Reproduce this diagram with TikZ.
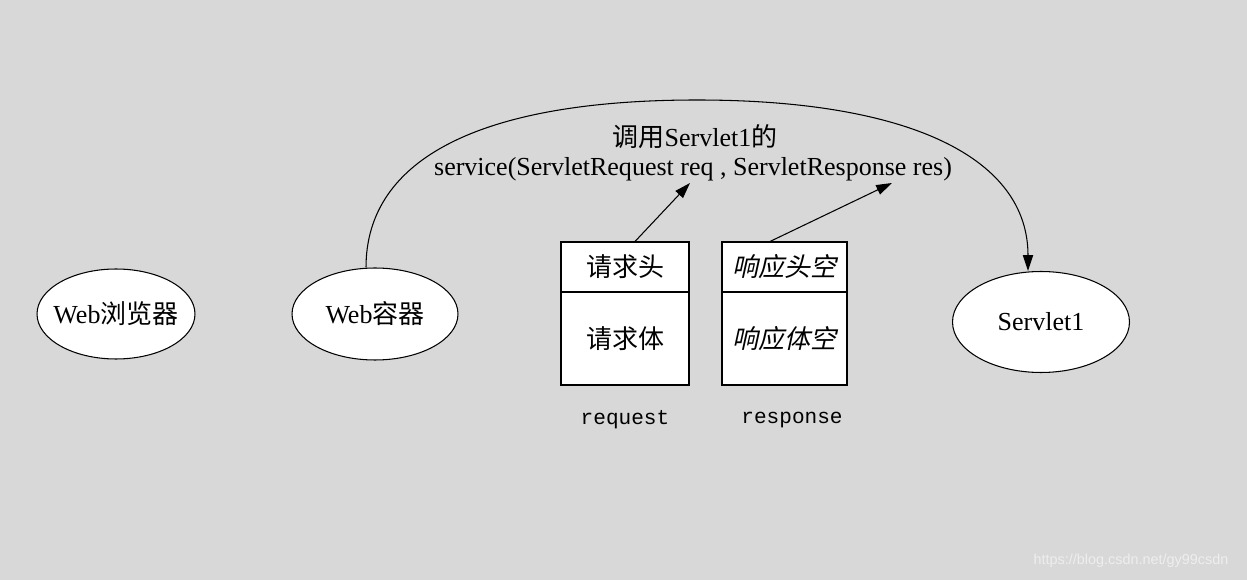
\documentclass[tikz,border=0pt]{standalone}
\usepackage{fontspec}
\setmainfont{Liberation Serif}
\newfontfamily\cjk{Noto Sans CJK SC}
\newfontfamily\cjkit[FakeSlant=0.22]{Noto Sans CJK SC}
\newfontfamily\monof{Liberation Mono}
\newfontfamily\wmfont{Liberation Sans}
\usetikzlibrary{shapes.geometric,arrows.meta}
\definecolor{bgc}{HTML}{D8D8D8}
\definecolor{wmc}{HTML}{EEEEEE}
\newcommand{\zw}[1]{\makebox[0pt]{#1}}
\tikzset{
  ell/.style={ellipse, draw=black, fill=white, inner sep=0pt, line width=0.6pt,
    font=\fontsize{14.8pt}{17pt}\selectfont},
  cell/.style={rectangle, draw=black, fill=white, inner sep=0pt, line width=0.6pt,
    font=\fontsize{14.8pt}{17pt}\selectfont},
  lbl/.style={inner sep=0pt, font=\fontsize{14.8pt}{17pt}\selectfont},
  mono/.style={inner sep=0pt, font=\monof\fontsize{12pt}{14pt}\selectfont},
  arr/.style={line width=0.6pt, -{Triangle[length=9pt,width=5.8pt]}},
}
\begin{document}
\begin{tikzpicture}[x=0.02cm, y=-0.02cm]
\fill[bgc] (0,0) rectangle (1247,580);
\useasboundingbox (0,0) rectangle (1247,580);

% ellipses
\node[ell, minimum width=3.16cm, minimum height=1.8cm] (br) at (116,314) {\zw{Web{\cjk 浏览器}}};
\node[ell, minimum width=3.32cm, minimum height=1.84cm] (wc) at (375,314) {\zw{Web{\cjk 容器}}};
\node[ell, minimum width=3.54cm, minimum height=2.02cm] (sv) at (1041,322) {\zw{Servlet1}};

% request / response boxes
\node[cell, minimum width=2.56cm, minimum height=1.0cm] (reqh) at (625,267) {\cjk 请求头};
\node[cell, minimum width=2.56cm, minimum height=1.86cm] (reqb) at (625,338.5) {\cjk 请求体};
\node[cell, minimum width=2.5cm, minimum height=1.0cm] (resh) at (784.5,267) {\cjkit 响应头空};
\node[cell, minimum width=2.5cm, minimum height=1.86cm] (resb) at (784.5,338.5) {\cjkit 响应体空};

\node[mono] (reqlbl) at (625,420) {request};
\node[mono] (reslbl) at (792,420) {response};

% call label
\node[lbl] (l1) at (695,137) {{\cjk 调用}Servlet1{\cjk 的}};
\node[lbl] (l2) at (693,169) {service(ServletRequest req , ServletResponse res)};

\coordinate (apex) at (697,100);
\coordinate (reqtip) at (690,183);
\coordinate (restip) at (892,183);

% connectors
\draw[arr] ([xshift=-0.18cm]wc.north) .. controls (366,158) and (482,100) .. (apex)
  .. controls (912,100) and (1028,159) .. ([xshift=-0.26cm]sv.north);
\draw[arr] ([xshift=0.2cm]reqh.north) -- (reqtip);
\draw[arr] ([xshift=-0.29cm]resh.north) -- (restip);

% watermark
\node[inner sep=0pt, text=wmc, font=\wmfont\fontsize{8.2pt}{10pt}\selectfont] (wm) at (1131,561) {https://blog.csdn.net/gy99csdn};
\end{tikzpicture}
\end{document}
